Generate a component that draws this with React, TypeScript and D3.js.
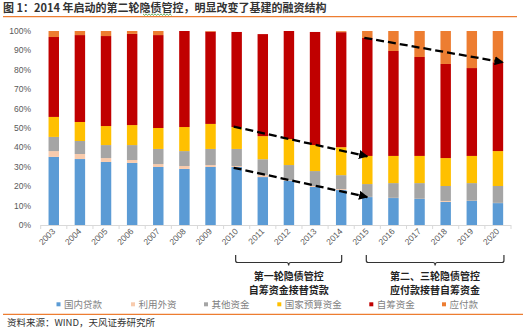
import React from "react";
import * as d3 from "d3";

const years = ["2003","2004","2005","2006","2007","2008","2009","2010","2011","2012","2013","2014","2015","2016","2017","2018","2019","2020"];
const domesticLoans = [35.1, 34.0, 32.5, 32.0, 29.9, 28.9, 29.9, 29.9, 24.7, 22.7, 19.6, 18.0, 14.4, 13.9, 13.4, 11.9, 12.4, 11.3];
const foreignCapital = [3.0, 2.6, 2.0, 1.5, 1.5, 1.5, 1.0, 0.5, 1.0, 0.3, 0.5, 0.5, 0.1, 0.1, 0.1, 0.5, 0.1, 0.1];
const otherFunds = [7.3, 6.7, 6.7, 7.7, 7.8, 7.7, 8.3, 8.8, 8.2, 7.9, 7.7, 7.2, 6.6, 7.6, 8.1, 7.7, 9.1, 8.7];
const stateBudget = [10.3, 9.8, 9.8, 10.3, 10.8, 12.4, 12.9, 11.3, 11.9, 13.4, 13.4, 14.4, 14.5, 14.0, 14.0, 14.4, 14.0, 18.0];
const selfRaised = [41.2, 44.8, 46.4, 47.0, 47.9, 49.5, 47.6, 49.0, 52.6, 55.7, 58.3, 59.3, 60.8, 54.1, 51.0, 48.5, 45.3, 45.8];
const payables = [3.1, 2.1, 2.6, 1.5, 2.1, 0, 0.3, 0, 0, 0, 0, 0.5, 3.6, 10.3, 13.4, 17.0, 19.1, 16.1];

const seriesNames = ["国内贷款", "利用外资", "其他资金", "国家预算资金", "自筹资金", "应付款"];
const seriesValues = [domesticLoans, foreignCapital, otherFunds, stateBudget, selfRaised, payables];
const seriesColors = ["#5B9BD5", "#F8CBAD", "#A5A5A5", "#FFC000", "#C00000", "#ED7D31"];
const yTicks = [0, 10, 20, 30, 40, 50, 60, 70, 80, 90, 100];

const titleText = "图 1：2014 年启动的第二轮隐债管控，明显改变了基建的融资结构";
const sourceText = "资料来源：WIND，天风证券研究所";

// annotation arrows: [fromYear, fromValue, toYear, toValue]
const arrows: [string, number, string, number][] = [
  ["2010", 50.7, "2015", 35.4],
  ["2010", 29.5, "2015", 14.4],
  ["2015", 96.5, "2020", 83.9],
];
const brackets = [
  { from: "2010", to: "2014", lines: ["第一轮隐债管控", "自筹资金接替贷款"] },
  { from: "2015", to: "2020", lines: ["第二、三轮隐债管控", "应付款接替自筹资金"] },
];

const W = 530, H = 329;
const plotLeft = 40.7, plotRight = 511, plotTop = 31, plotBottom = 225;
const CJK = "'Noto Sans CJK SC', 'Noto Sans', sans-serif";
const LAT = "'Liberation Sans', Arial, sans-serif";

export default function App() {
  const x = d3.scaleBand<string>().domain(years).range([plotLeft, plotRight]).paddingInner(0.6).paddingOuter(0.3);
  const y = d3.scaleLinear().domain([0, 100]).range([plotBottom, plotTop]);
  const step = x.step();
  const cx = (yr: string) => (x(yr) as number) + x.bandwidth() / 2;

  const rows = years.map((yr, i) => {
    const r: any = { year: yr };
    seriesNames.forEach((n, k) => (r[n] = seriesValues[k][i]));
    return r;
  });
  const stacked = d3.stack<any>().keys(seriesNames)(rows);

  const legendX = [56.5, 131, 204, 277.3, 369.3, 442];

  const sq: [number, number][] = [];
  for (let px = 143; px <= 172; px += 1.5) sq.push([px, 14.6 + (Math.round((px - 143) / 1.5) % 2 === 0 ? -0.7 : 0.7)]);

  return (
    <svg width={W} height={H} style={{ position: "absolute", left: 0, top: 0, background: "#fff" }}>
      <defs>
        <marker id="ah" viewBox="0 0 10 10" refX="9" refY="5" markerWidth="4" markerHeight="4" orient="auto" markerUnits="strokeWidth">
          <path d="M0,0 L10,5 L0,10 z" fill="#000" />
        </marker>
      </defs>
      <text x={3} y={11.5} fontFamily={CJK} fontSize={11} fontWeight="bold" fill="#333">{titleText}</text>
      <path d={d3.line()(sq) as string} stroke="#3a9a3a" strokeWidth={0.8} fill="none" />
      <line x1={3} x2={517} y1={16.7} y2={16.7} stroke="#ED7D31" strokeWidth={1.2} />

      {yTicks.map((t) => (
        <text key={t} x={31} y={y(t) + 3} textAnchor="end" fontFamily={LAT} fontSize={8.5} fill="#595959">{t}%</text>
      ))}

      {stacked.map((s, k) => (
        <g key={s.key} fill={seriesColors[k]}>
          {s.map((d, i) => (
            <rect key={i} x={x(years[i])} width={x.bandwidth()} y={y(d[1])} height={Math.max(0, y(d[0]) - y(d[1]))} />
          ))}
        </g>
      ))}

      <line x1={plotLeft} x2={plotRight} y1={plotBottom + 0.5} y2={plotBottom + 0.5} stroke="#D9D9D9" />
      {years.concat(["end"]).map((yr, i) => {
        const tx = plotLeft + i * step;
        return <line key={i} x1={tx} x2={tx} y1={plotBottom} y2={plotBottom + 4} stroke="#D9D9D9" />;
      })}
      {years.map((yr) => (
        <text key={yr} transform={`translate(${cx(yr) + 2},${plotBottom + 7}) rotate(-45)`} textAnchor="end" fontFamily={LAT} fontSize={8.5} fill="#595959">{yr}</text>
      ))}

      {arrows.map(([fy, fv, ty, tv], i) => (
        <line key={i} x1={cx(fy) - 3} y1={y(fv)} x2={cx(ty) + (i === 2 ? 5 : 0)} y2={y(tv)} stroke="#000" strokeWidth={2.3} strokeDasharray="8 4" markerEnd="url(#ah)" />
      ))}

      {brackets.map((b, i) => {
        const x1 = cx(b.from) - 1;
        const x2 = cx(b.to) + (i === 1 ? 6 : 0.5);
        const mid = (x1 + x2) / 2;
        const top = 255, bar = 262.5;
        const p = `M${x1},${top} L${x1},${bar - 2} Q${x1},${bar} ${x1 + 2},${bar} L${mid - 2},${bar} Q${mid},${bar} ${mid},${bar + 3} Q${mid},${bar} ${mid + 2},${bar} L${x2 - 2},${bar} Q${x2},${bar} ${x2},${bar - 2} L${x2},${top}`;
        return (
          <g key={i}>
            <path d={p} stroke="#333" strokeWidth={1.2} fill="none" />
            {b.lines.map((l, j) => (
              <text key={j} x={mid} y={280 + j * 14} textAnchor="middle" fontFamily={CJK} fontSize={10} fontWeight="bold" fill="#222">{l}</text>
            ))}
          </g>
        );
      })}

      {seriesNames.map((n, k) => (
        <g key={n}>
          <rect x={legendX[k]} y={302.3} width={4} height={4} fill={seriesColors[k]} />
          <text x={legendX[k] + 7.5} y={308} fontFamily={CJK} fontSize={9.5} fill="#7f7f7f">{n}</text>
        </g>
      ))}

      <line x1={3} x2={523} y1={314.3} y2={314.3} stroke="#ED7D31" strokeWidth={1.2} />
      <text x={7} y={326} fontFamily={CJK} fontSize={9.5} fill="#333">{sourceText}</text>
    </svg>
  );
}
